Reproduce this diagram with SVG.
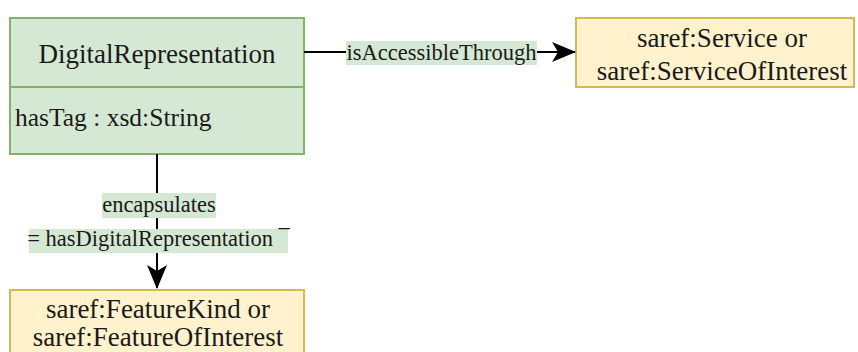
<svg xmlns="http://www.w3.org/2000/svg" width="858" height="352" viewBox="0 0 858 352">
<style>
text{fill:#1a1a1a;font-family:"Liberation Serif","Times New Roman",serif}
.g{fill:#d5e8d4;stroke:#82b366;stroke-width:2}
.y{fill:#fff2cc;stroke:#d6b656;stroke-width:2}
.e{stroke:#000;stroke-width:2;fill:none}
.lb{fill:#d5e8d4}
.t{font-size:27px}
.a{font-size:25.5px}
.l{font-size:22.5px}
</style>
<defs>
<marker id="ar" viewBox="0 0 24 20" refX="23" refY="10" markerWidth="24" markerHeight="20" markerUnits="userSpaceOnUse" orient="auto">
<path d="M0,0 L24,10 L0,20 L6,10 Z" fill="#000"/>
</marker>
</defs>
<g id="digitalRepresentation">
<rect class="g" x="10" y="18" width="294" height="136"/>
<line x1="10" y1="87" x2="304" y2="87" stroke="#82b366" stroke-width="2"/>
<text class="t" x="157" y="63" text-anchor="middle">DigitalRepresentation</text>
<text class="a" x="15" y="126">hasTag : xsd:String</text>
</g>
<g id="service">
<rect class="y" x="576" y="18" width="278" height="69"/>
<text class="t" x="722" y="47" text-anchor="middle">saref:Service or</text>
<text class="t" x="722" y="80" text-anchor="middle">saref:ServiceOfInterest</text>
</g>
<g id="feature">
<rect class="y" x="10" y="290" width="294" height="80"/>
<text class="t" x="158" y="318" text-anchor="middle">saref:FeatureKind or</text>
<text class="t" x="158" y="346" text-anchor="middle">saref:FeatureOfInterest</text>
</g>
<g id="connectors">
<path class="e" d="M304,52 L575,52" marker-end="url(#ar)"/>
<rect class="lb" x="346" y="41" width="191" height="24"/>
<text class="l" x="441.5" y="60" text-anchor="middle">isAccessibleThrough</text>
<path class="e" d="M157,154 L157,288" marker-end="url(#ar)"/>
<rect class="lb" x="102" y="193" width="114" height="25"/>
<text class="l" x="159" y="212" text-anchor="middle">encapsulates</text>
<rect class="lb" x="29" y="229" width="259" height="24"/>
<text class="l" x="158.5" y="246" text-anchor="middle">= hasDigitalRepresentation ¯</text>
</g>
</svg>
